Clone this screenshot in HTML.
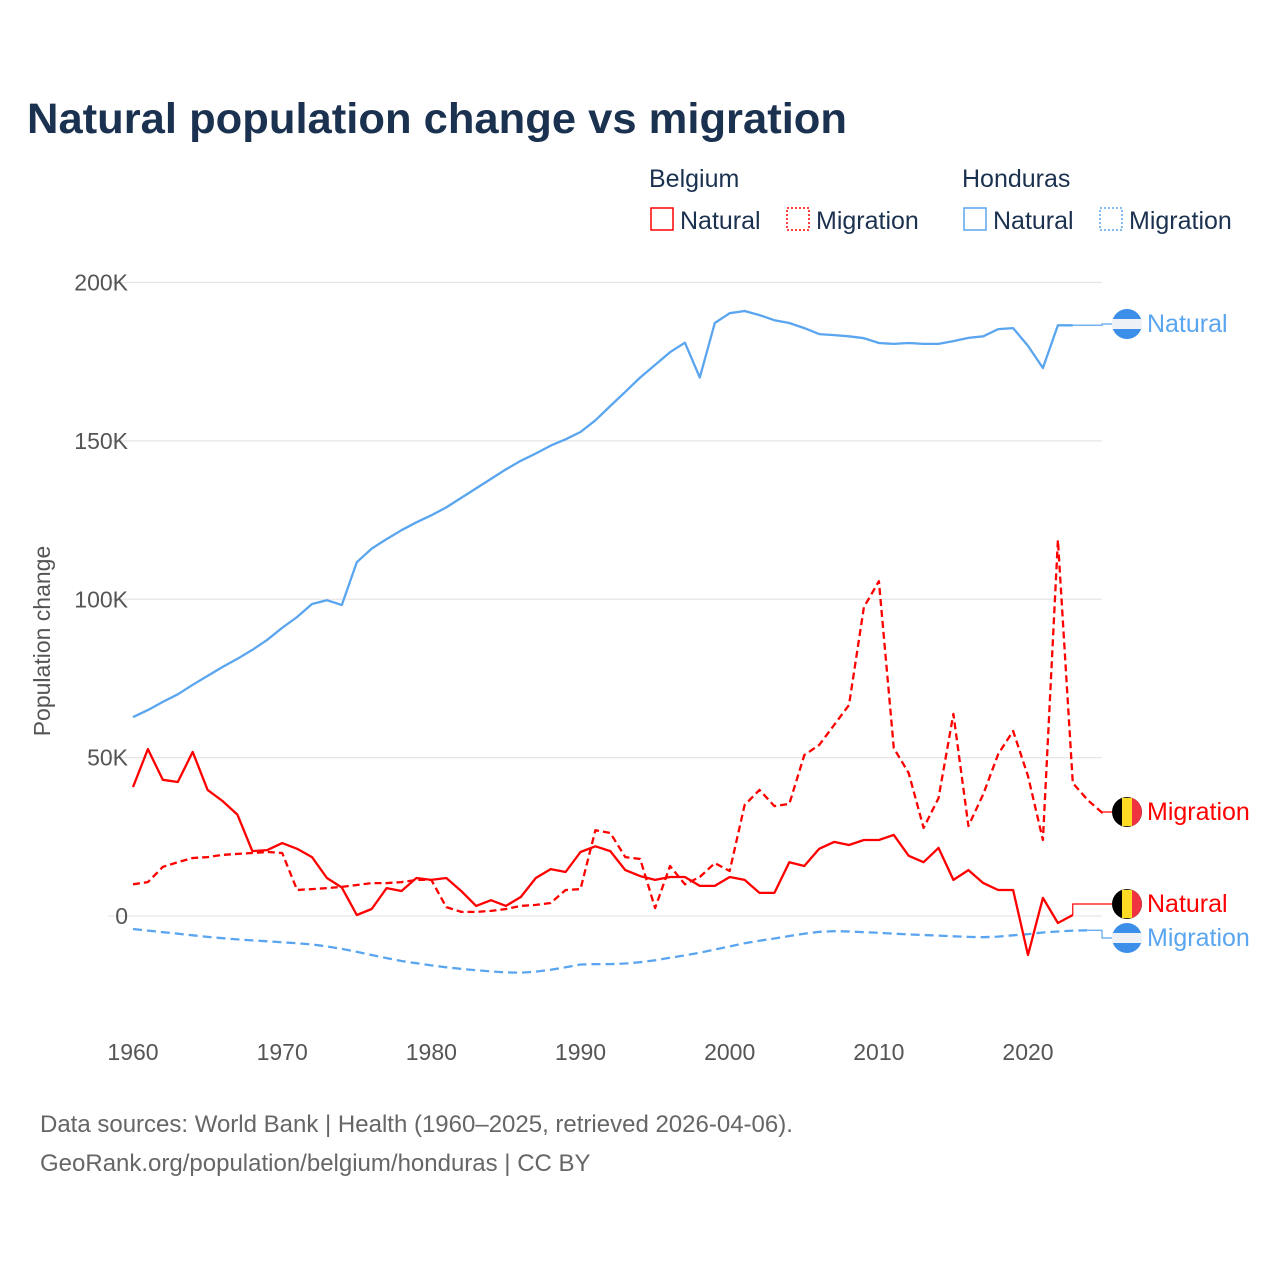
<!DOCTYPE html>
<html><head><meta charset="utf-8"><style>
body{margin:0;background:#fff;font-family:"Liberation Sans",sans-serif}
svg{display:block}
</style></head><body>
<svg id="chart" width="1280" height="1280" viewBox="0 0 1280 1280" xmlns="http://www.w3.org/2000/svg">
<text x="27" y="133" font-size="43" font-weight="bold" fill="#1b3150" textLength="820" lengthAdjust="spacingAndGlyphs">Natural population change vs migration</text>
<g font-size="25" fill="#1b3150">
<text x="649" y="187">Belgium</text>
<text x="962" y="187">Honduras</text>
<g><rect x="651" y="208" width="22" height="22" fill="none" stroke="#f00" stroke-width="1.5"/><text x="680" y="229">Natural</text></g>
<g><rect x="787" y="208" width="22" height="22" fill="none" stroke="#f00" stroke-width="1.5" stroke-dasharray="2 2"/><text x="816" y="229">Migration</text></g>
<g><rect x="964" y="208" width="22" height="22" fill="none" stroke="#5aa5ef" stroke-width="1.5"/><text x="993" y="229">Natural</text></g>
<g><rect x="1100" y="208" width="22" height="22" fill="none" stroke="#5aa5ef" stroke-width="1.5" stroke-dasharray="2 2"/><text x="1129" y="229">Migration</text></g>
</g>
<g id="grid"></g>
<g id="axes"></g>
<g id="series"></g>
<g id="labels"></g>
<text transform="translate(50,641) rotate(-90)" text-anchor="middle" font-size="23" fill="#555">Population change</text>
<text x="40" y="1132" font-size="24" fill="#666">Data sources: World Bank | Health (1960–2025, retrieved 2026-04-06).</text>
<text x="40" y="1171" font-size="24" fill="#666">GeoRank.org/population/belgium/honduras | CC BY</text>
</svg>
<script>
const yTicks=[0,50,100,150,200];
const yTickLabels=["0","50K","100K","150K","200K"];
const xTicks=[1960,1970,1980,1990,2000,2010,2020];
const startYear=1960;
const belNatural=[40.7,52.7,43,42.3,51.8,39.8,36.3,32,20.5,20.8,23,21.2,18.6,12,9,0.3,2.2,8.8,7.9,12,11.4,12,7.9,3.2,5,3.2,6,12,14.8,13.9,20.2,22,20.5,14.5,12.6,11.4,12.3,12.3,9.5,9.5,12.3,11.4,7.3,7.3,17,15.8,21.2,23.4,22.4,24,24,25.6,19,17,21.5,11.4,14.5,10.4,8.2,8.2,-12.3,5.7,-2.2,0.3];
const belMigration=[10,10.7,15.5,17,18.3,18.6,19.3,19.6,19.9,20.2,19.9,8.2,8.5,8.8,9.2,9.8,10.4,10.4,10.7,11.4,11.4,2.8,1.3,1.3,1.6,2.2,3.2,3.5,4.1,8.2,8.5,27.1,26.2,18.6,18,2.5,15.8,10,12.3,16.7,14.2,35,39.8,34.7,35.4,50.8,54,60.3,66.6,97.5,105.7,53,45.1,27.8,37.2,63.8,28.4,38.5,51.1,58.4,44.2,24,118.7,42,36.6,32.5];
const honNatural=[62.8,65,67.6,70,73,75.8,78.6,81.2,84,87.2,91,94.4,98.5,99.7,98.2,111.7,116,119,121.8,124.3,126.5,129,132,135,138,141,143.7,146,148.5,150.5,152.8,156.5,161,165.5,170,174,178,181,170,187.2,190.3,191,189.7,188.1,187.2,185.6,183.7,183.4,183,182.4,180.9,180.6,180.9,180.6,180.6,181.5,182.5,183,185.3,185.6,180,173,186.5,186.5];
const honMigration=[-4.1,-4.6,-5.1,-5.6,-6.1,-6.6,-7,-7.4,-7.7,-8,-8.3,-8.6,-9,-9.6,-10.4,-11.3,-12.3,-13.3,-14.2,-14.9,-15.6,-16.2,-16.7,-17.1,-17.5,-17.8,-17.9,-17.6,-17,-16.2,-15.3,-15.2,-15.2,-15,-14.6,-14,-13.2,-12.4,-11.6,-10.6,-9.6,-8.6,-7.8,-7.1,-6.3,-5.6,-5,-4.8,-4.9,-5.1,-5.3,-5.6,-5.8,-6,-6.2,-6.4,-6.6,-6.7,-6.5,-6.1,-5.7,-5.2,-4.9,-4.6,-4.5];

const NS="http://www.w3.org/2000/svg";
const x=yr=>133+(yr-1960)*14.917;
const y=v=>916-v*3.1675;
function mk(tag,attrs,parent){const e=document.createElementNS(NS,tag);for(const k in attrs)e.setAttribute(k,attrs[k]);parent.appendChild(e);return e;}
const grid=document.getElementById('grid'),axes=document.getElementById('axes'),series=document.getElementById('series'),labels=document.getElementById('labels');
yTicks.forEach((t,i)=>{
 const l=mk('line',{x1:108,x2:1102,y1:y(t),y2:y(t),stroke:'#e6e6e6','stroke-width':1.3},grid);
 
 
 const tx=mk('text',{x:128,y:y(t)+8,'text-anchor':'end','font-size':23,fill:'#555'},axes);
 tx.textContent=yTickLabels[i];
 
 
});
xTicks.forEach(t=>{
 const tx=mk('text',{x:x(t),y:1060,'text-anchor':'middle','font-size':23,fill:'#555'},axes);
 tx.textContent=t;
 
 
});
function line(data,color,dash,name){
 const d=data.map((v,i)=>(i?'L':'M')+x(startYear+i).toFixed(1)+','+y(v).toFixed(1)).join('');
 const p=mk('path',{d:d,fill:'none',stroke:color,'stroke-width':2.3,'stroke-linejoin':'round'},series);
 if(dash)p.setAttribute('stroke-dasharray',dash);
 
 
}
line(honNatural,'#5aa5ef',null,'line-honduras-natural');
line(honMigration,'#5aa5ef','9 5','line-honduras-migration');
line(belMigration,'#f00','7 4','line-belgium-migration');
line(belNatural,'#f00',null,'line-belgium-natural');
function endLabel(data,labY,color,flag,text,name,bendAtEnd){
 const ex=x(startYear+data.length-1),ey=y(data[data.length-1]);
 const d=bendAtEnd?`M${ex},${ey}L${ex},${labY}L1112,${labY}`:`M${ex},${ey}L1102,${ey}L1102,${labY}L1112,${labY}`;
 const c=mk('path',{d:d,fill:'none',stroke:color,'stroke-width':1.2},labels);
 
 
 const g=mk('g',{},labels);
 
 
 if(flag==='be'){
  mk('circle',{cx:1127,cy:labY,r:15,fill:'#000'},g);
  mk('path',{d:`M1122,${labY-14.1}L1132,${labY-14.1}L1132,${labY+14.1}L1122,${labY+14.1}Z`,fill:'#fdda24'},g);
  mk('path',{d:`M1132,${labY-14.1}A15,15 0 0 1 1132,${labY+14.1}Z`,fill:'#ef3340'},g);
 }else{
  mk('circle',{cx:1127,cy:labY,r:15,fill:'#3c8fe8'},g);
  mk('rect',{x:1112,y:labY-5,width:30,height:10,fill:'#eef2f6'},g);
 }
 const t=mk('text',{x:1147,y:labY+8,'font-size':25,fill:color},g);
 t.textContent=text;
}
endLabel(honNatural,324,'#5aa5ef','hn','Natural','label-honduras-natural',false);
endLabel(belMigration,812,'#f00','be','Migration','label-belgium-migration',false);
endLabel(belNatural,904,'#f00','be','Natural','label-belgium-natural',true);
endLabel(honMigration,938,'#5aa5ef','hn','Migration','label-honduras-migration',false);
</script>
</body></html>
